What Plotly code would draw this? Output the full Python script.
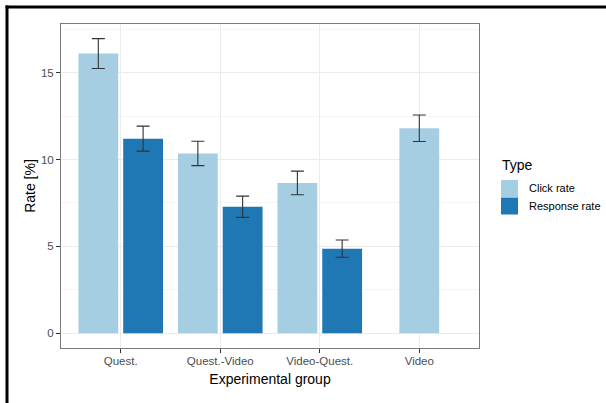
import plotly.graph_objects as go

# ---- data ----
groups = ["Quest.", "Quest.-Video", "Video-Quest.", "Video"]
click_rate = [16.1, 10.35, 8.65, 11.8]
click_err = [0.86, 0.70, 0.68, 0.76]
response_groups = ["Quest.", "Quest.-Video", "Video-Quest."]
response_rate = [11.2, 7.28, 4.87]
response_err = [0.72, 0.61, 0.50]
series_names = ["Click rate", "Response rate"]
y_ticks = [0, 5, 10, 15]

# ---- styling ----
C_CLICK = "#A6CEE3"
C_RESP = "#1F78B4"
W, H = 606, 403
ML, MR, MT, MB = 61, 127, 24, 55
FONT = "Liberation Sans, Arial, sans-serif"

bar_w = 0.4
# dodge offsets: groups with two bars are dodged, single bar is centred
click_offset = [-0.425 if g in response_groups else -0.2 for g in groups]
resp_offset = [0.025 for _ in response_groups]

fig = go.Figure()
fig.add_trace(go.Bar(
    x=groups, y=click_rate, name=series_names[0],
    marker=dict(color=C_CLICK, line=dict(width=0)),
    width=bar_w, offset=click_offset,
    error_y=dict(type="data", array=click_err, color="#333333", thickness=1.1, width=6.5),
    showlegend=False,
))
fig.add_trace(go.Bar(
    x=response_groups, y=response_rate, name=series_names[1],
    marker=dict(color=C_RESP, line=dict(width=0)),
    width=bar_w, offset=resp_offset,
    error_y=dict(type="data", array=response_err, color="#333333", thickness=1.1, width=6.5),
    showlegend=False,
))

pw = W - ML - MR
ph = H - MT - MB

def px_x(px):
    return (px - ML) / pw

def px_y(py):
    return (H - MB - py) / ph

shapes = []
# outer black frame (top and left edges)
shapes.append(dict(type="line", xref="paper", yref="paper",
                   x0=px_x(5.5), x1=px_x(W + 2), y0=px_y(7), y1=px_y(7),
                   line=dict(color="black", width=3)))
shapes.append(dict(type="line", xref="paper", yref="paper",
                   x0=px_x(7), x1=px_x(7), y0=px_y(5.5), y1=px_y(H + 2),
                   line=dict(color="black", width=3)))

# custom legend
annotations = []
lx = 501
annotations.append(dict(text="Type", xref="paper", yref="paper",
                        x=px_x(lx - 1), y=px_y(165), xanchor="left", yanchor="middle",
                        showarrow=False, font=dict(family=FONT, size=14, color="black")))
for i, (nm, col) in enumerate(zip(series_names, [C_CLICK, C_RESP])):
    top = 180 + i * 17.5
    shapes.append(dict(type="rect", xref="paper", yref="paper",
                       x0=px_x(lx), x1=px_x(lx + 17), y0=px_y(top), y1=px_y(top + 17),
                       fillcolor=col, line=dict(width=0), layer="above"))
    annotations.append(dict(text=nm, xref="paper", yref="paper",
                            x=px_x(527), y=px_y(top + 8.5), xanchor="left", yanchor="middle",
                            showarrow=False, font=dict(family=FONT, size=11, color="black")))

fig.update_layout(
    width=W, height=H,
    margin=dict(l=ML, r=MR, t=MT, b=MB, pad=0),
    paper_bgcolor="white", plot_bgcolor="white",
    barmode="overlay",
    font=dict(family=FONT, color="#4D4D4D"),
    shapes=shapes, annotations=annotations,
    showlegend=False,
)
fig.update_xaxes(
    type="category", categoryorder="array", categoryarray=groups,
    range=[-0.6, 3.6],
    showgrid=True, gridcolor="#EBEBEB", gridwidth=1,
    showline=True, mirror=True, linecolor="#7a7a7a", linewidth=1,
    ticks="outside", ticklen=4, tickcolor="#333333", tickwidth=1,
    ticklabelstandoff=-2,
    tickfont=dict(family=FONT, size=11.5, color="#4D4D4D"),
    title=dict(text="Experimental group", font=dict(family=FONT, size=14, color="black"), standoff=8),
    zeroline=False,
)
fig.update_yaxes(
    range=[-0.85, 17.8],
    tickvals=y_ticks, ticktext=[str(v) for v in y_ticks],
    showgrid=True, gridcolor="#EBEBEB", gridwidth=1,
    minor=dict(showgrid=True, gridcolor="#F4F4F4", gridwidth=1, dtick=2.5, tick0=0),
    showline=True, mirror=True, linecolor="#7a7a7a", linewidth=1,
    ticks="outside", ticklen=4, tickcolor="#333333", tickwidth=1,
    tickfont=dict(family=FONT, size=11.5, color="#4D4D4D"),
    title=dict(text="Rate [%]", font=dict(family=FONT, size=14, color="black"), standoff=2),
    zeroline=False,
)

fig.write_html(
    "out.html",
    config={"displayModeBar": False},
    post_script="document.body.style.margin='0';document.body.style.overflow='hidden';",
)
